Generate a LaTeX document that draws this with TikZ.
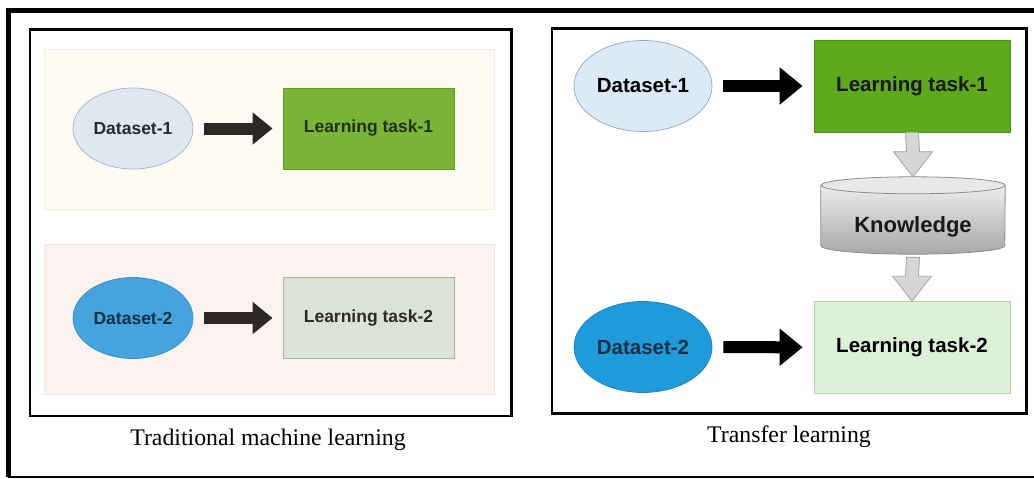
\documentclass[tikz,border=0pt]{standalone}
\usepackage{fontspec}
\setmainfont{Liberation Serif}
\setsansfont{Liberation Sans}
\usetikzlibrary{arrows.meta,calc,shapes.geometric}

% palette
\definecolor{creambg}{HTML}{FDFBF3}
\definecolor{creamln}{HTML}{F1EDE1}
\definecolor{pinkbg}{HTML}{FCF3F1}
\definecolor{pinkln}{HTML}{F1E5E2}
\definecolor{paleblue}{HTML}{DFE7F1}
\definecolor{palebluel}{HTML}{A2B2C7}
\definecolor{paleblueR}{HTML}{DCEAF8}
\definecolor{palebluelR}{HTML}{8FA6C4}
\definecolor{midblue}{HTML}{45A3DD}
\definecolor{midbluel}{HTML}{3A8BC2}
\definecolor{deepblue}{HTML}{1F9BDB}
\definecolor{deepbluel}{HTML}{1B7FB8}
\definecolor{grassL}{HTML}{7AB538}
\definecolor{grassLl}{HTML}{5E9A2A}
\definecolor{grassR}{HTML}{5FA91C}
\definecolor{grassRl}{HTML}{4E8F16}
\definecolor{sageL}{HTML}{DDE3D4}
\definecolor{sageLl}{HTML}{A7B49B}
\definecolor{mintR}{HTML}{DDF0D8}
\definecolor{mintRl}{HTML}{B5D3AA}
\definecolor{arrowdark}{HTML}{2D2826}
\definecolor{txtdark}{HTML}{2A2A2A}
\definecolor{txtgreen}{HTML}{1F3316}
\definecolor{txtnavy}{HTML}{1A3048}
\definecolor{cylline}{HTML}{8C8C8C}
\definecolor{garrowfill}{HTML}{D6D6D6}
\definecolor{garrowline}{HTML}{9A9A9A}

\tikzset{
  frame/.style={draw=black, line width=2.6pt},
  panelbg/.style={rectangle, inner sep=0pt, line width=0.6pt},
  lefttext/.style={font=\sffamily\bfseries\fontsize{17.5}{20}\selectfont},
  righttext/.style={font=\sffamily\bfseries\fontsize{20.5}{24}\selectfont},
  dataL/.style={ellipse, inner sep=0pt, minimum width=120pt, minimum height=81pt, line width=0.7pt, lefttext},
  dataR/.style={ellipse, inner sep=0pt, minimum width=138pt, minimum height=91pt, line width=0.7pt, righttext},
  taskL/.style={rectangle, inner sep=0pt, minimum width=171pt, minimum height=81pt, line width=0.8pt, lefttext},
  taskR/.style={rectangle, inner sep=0pt, minimum width=196pt, minimum height=92pt, line width=0.8pt, righttext},
  blockL/.style={draw=arrowdark, line width=12pt,
    -{Triangle[length=20pt, width=31pt]}, shorten <=11pt, shorten >=10pt},
  blockR/.style={draw=black, line width=12pt,
    -{Triangle[length=23pt, width=36pt]}, shorten <=11pt, shorten >=11pt},
  garrow/.style={fill=garrowfill, draw=garrowline, line width=0.7pt, line join=miter},
  caption/.style={font=\fontsize{23.8}{28}\selectfont, inner sep=0pt}
}

\begin{document}
\begin{tikzpicture}[x=1pt, y=-1pt]
\useasboundingbox (0,0) rectangle (1034,479);
\clip (0,0) rectangle (1034,479);
\fill[white] (0,0) rectangle (1034,479);

% outer frame, running past the right edge
\draw[line width=5pt] (1045,10) -- (8,10) -- (8,477);
\draw[line width=2.2pt] (8,477) -- (1045,477);

% ---------------- traditional machine learning ----------------
\draw[frame] (30,29.5) rectangle (511.5,416);
\node[panelbg, fill=creambg, draw=creamln, minimum width=450pt, minimum height=160pt] (bgA) at (269,129) {};
\node[panelbg, fill=pinkbg, draw=pinkln, minimum width=450pt, minimum height=150pt] (bgB) at (269,319) {};

\node[dataL, fill=paleblue, draw=palebluel, text=txtdark] (ld1) at (133,128.5) {Dataset-1};
\node[taskL, fill=grassL, draw=grassLl, text=txtgreen] (lt1) at (368.5,128.5) {Learning task-1};
\node[dataL, fill=midblue, draw=midbluel, text=txtnavy] (ld2) at (133,318) {Dataset-2};
\node[taskL, fill=sageL, draw=sageLl, text=txtdark] (lt2) at (368.5,318) {Learning task-2};

\draw[blockL] (ld1) -- (lt1);
\draw[blockL] (ld2) -- (lt2);

\node[caption] (capA) at (268,440) {Traditional machine learning};

% ---------------- transfer learning ----------------
\draw[frame] (552,28.5) rectangle (1026.5,413.5);

\node[dataR, fill=paleblueR, draw=palebluelR, text=black] (rd1) at (643,86) {Dataset-1};
\node[taskR, fill=grassR, draw=grassRl, text=black!90] (rt1) at (912,86) {Learning task-1};
\node[dataR, fill=deepblue, draw=deepbluel, text=txtnavy] (rd2) at (643,347) {Dataset-2};
\node[taskR, fill=mintR, draw=mintRl, text=black] (rt2) at (912,347.5) {Learning task-2};

\draw[blockR] (rd1) -- (rt1);
\draw[blockR] (rd2) -- (rt2);

% knowledge store: a cylinder drawn round an empty box
% (arc radii are in pt, so arc angles follow the page: 90 points up)
\node[rectangle, inner sep=0pt, minimum width=184pt, minimum height=77pt] (kn) at (913,215.5) {};
\shade[top color=black!4, bottom color=black!34]
  ($(kn.north west)+(0,8.5)$) -- ($(kn.south west)+(0,-8.5)$)
  arc[start angle=180, end angle=360, x radius=92pt, y radius=8.5pt]
  -- ($(kn.north east)+(0,8.5)$)
  arc[start angle=0, end angle=180, x radius=92pt, y radius=8.5pt] -- cycle;
\fill[black!9] ($(kn.north)+(0,8.5)$) ellipse[x radius=92pt, y radius=8.5pt];
\draw[cylline, line width=0.8pt]
  ($(kn.north west)+(0,8.5)$) -- ($(kn.south west)+(0,-8.5)$)
  arc[start angle=180, end angle=360, x radius=92pt, y radius=8.5pt]
  -- ($(kn.north east)+(0,8.5)$)
  arc[start angle=0, end angle=180, x radius=92pt, y radius=8.5pt]
  arc[start angle=180, end angle=360, x radius=92pt, y radius=8.5pt];
\node[font=\sffamily\bfseries\fontsize{22}{26}\selectfont, text=black!90] (kntext) at ($(kn.center)+(0,11)$) {Knowledge};

% hollow grey arrows feeding the store and the second task
\draw[garrow]
  ($(rt1.south)+(-6.5,0)$) -- ($(kn.north)+(-6.5,-25)$) -- ($(kn.north)+(-19.5,-25)$)
  -- ($(kn.north)+(0,0)$) -- ($(kn.north)+(19.5,-25)$) -- ($(kn.north)+(6.5,-25)$)
  -- ($(rt1.south)+(6.5,0)$);
\draw[garrow]
  ($(kn.south)+(-6.5,3)$) -- ($(rt2.north)+(-6.5,-25)$) -- ($(rt2.north)+(-19.5,-25)$)
  -- ($(rt2.north)+(0,0)$) -- ($(rt2.north)+(19.5,-25)$) -- ($(rt2.north)+(6.5,-25)$)
  -- ($(kn.south)+(6.5,3)$) -- cycle;

\node[caption] (capB) at (789,437) {Transfer learning};
\end{tikzpicture}
\end{document}
